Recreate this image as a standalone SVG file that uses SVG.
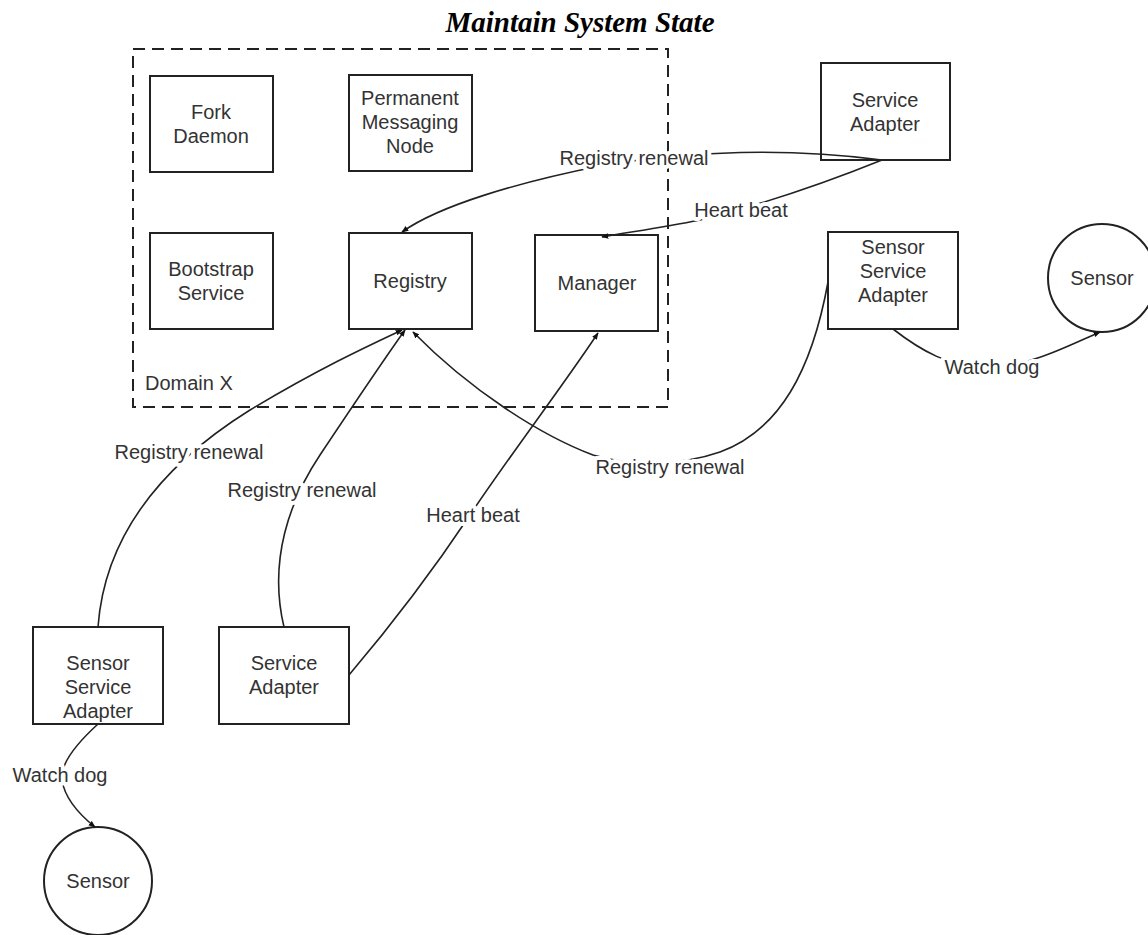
<svg xmlns="http://www.w3.org/2000/svg" width="1148" height="935" viewBox="0 0 1148 935">
<defs>
<style>
.box{fill:#fff;stroke:#222;stroke-width:2}
.t{font-family:"Liberation Sans",Arial,sans-serif;font-size:20px;fill:#333;text-anchor:middle;dominant-baseline:central}
.lbl{font-family:"Liberation Sans",Arial,sans-serif;font-size:20px;fill:#333;text-anchor:middle;dominant-baseline:central;stroke:#fff;stroke-width:8px;paint-order:stroke;stroke-linejoin:round}
.c{fill:none;stroke:#222;stroke-width:1.6}
</style>
<marker id="ah" viewBox="0 0 10 10" refX="9" refY="5" markerWidth="7" markerHeight="7" orient="auto" markerUnits="userSpaceOnUse">
<path d="M0,1 L10,5 L0,9 z" fill="#111"/>
</marker>
</defs>
<rect width="1148" height="935" fill="#fff"/>
<text x="580" y="32" font-family="Liberation Serif,Times New Roman,serif" font-size="29" font-weight="bold" font-style="italic" text-anchor="middle" fill="#000">Maintain System State</text>

<g id="domain">
<rect x="133" y="49" width="535" height="358" fill="none" stroke="#222" stroke-width="2" stroke-dasharray="12,7"/>
<text class="t" x="145" y="383" style="text-anchor:start">Domain X</text>
</g>

<g id="fork"><rect class="box" x="150" y="76" width="123" height="96"/><text class="t" x="211" y="112">Fork</text><text class="t" x="211" y="136">Daemon</text></g>
<g id="pmn"><rect class="box" x="349" y="75" width="123" height="96"/><text class="t" x="410" y="98">Permanent</text><text class="t" x="410" y="122">Messaging</text><text class="t" x="410" y="146">Node</text></g>
<g id="bootstrap"><rect class="box" x="150" y="233" width="123" height="96"/><text class="t" x="211" y="269">Bootstrap</text><text class="t" x="211" y="293">Service</text></g>
<g id="registry"><rect class="box" x="349" y="233" width="123" height="96"/><text class="t" x="410" y="281">Registry</text></g>
<g id="manager"><rect class="box" x="535" y="235" width="123" height="96"/><text class="t" x="597" y="283">Manager</text></g>
<g id="sa-top"><rect class="box" x="821" y="63" width="129" height="97"/><text class="t" x="885" y="100">Service</text><text class="t" x="885" y="124">Adapter</text></g>
<g id="ssa-right"><rect class="box" x="828" y="232" width="130" height="97"/><text class="t" x="893" y="247">Sensor</text><text class="t" x="893" y="271">Service</text><text class="t" x="893" y="295">Adapter</text></g>
<g id="sensor-right"><circle cx="1102" cy="278" r="54" fill="#fff" stroke="#222" stroke-width="2"/><text class="t" x="1102" y="278">Sensor</text></g>
<g id="ssa-left"><rect class="box" x="33" y="627" width="130" height="97"/><text class="t" x="98" y="663">Sensor</text><text class="t" x="98" y="687">Service</text><text class="t" x="98" y="711">Adapter</text></g>
<g id="sa-bottom"><rect class="box" x="219" y="627" width="130" height="97"/><text class="t" x="284" y="663">Service</text><text class="t" x="284" y="687">Adapter</text></g>
<g id="sensor-left"><circle cx="98" cy="881" r="54" fill="#fff" stroke="#222" stroke-width="2"/><text class="t" x="98" y="881">Sensor</text></g>

<g id="connectors">
<path class="c" marker-end="url(#ah)" d="M882,160 C790,148 690,150 600,166 C520,182 440,205 402,232"/>
<path class="c" marker-end="url(#ah)" d="M882,160 C820,185 760,205 700,220 C660,228 630,232 602,237"/>
<path class="c" marker-end="url(#ah)" d="M98,627 C105,530 170,460 250,410 C320,368 370,345 402,330"/>
<path class="c" marker-end="url(#ah)" d="M284,627 C268,560 290,500 320,455 C350,410 380,365 405,330"/>
<path class="c" marker-end="url(#ah)" d="M349,675 C400,615 440,560 470,515 C510,455 560,390 598,333"/>
<path class="c" marker-end="url(#ah)" d="M828,282 C812,370 780,430 720,452 C680,466 630,466 593,455 C540,435 470,390 413,332"/>
<path class="c" marker-end="url(#ah)" d="M893,329 C920,350 950,368 990,368 C1030,366 1070,345 1100,332"/>
<path class="c" marker-end="url(#ah)" d="M98,724 C75,745 60,765 62,780 C65,800 80,815 95,827"/>
<text class="lbl" x="634" y="158">Registry renewal</text>
<text class="lbl" x="741" y="210">Heart beat</text>
<text class="lbl" x="189" y="452">Registry renewal</text>
<text class="lbl" x="302" y="490">Registry renewal</text>
<text class="lbl" x="473" y="515">Heart beat</text>
<text class="lbl" x="670" y="467">Registry renewal</text>
<text class="lbl" x="992" y="367">Watch dog</text>
<text class="lbl" x="60" y="775">Watch dog</text>
</g>
</svg>
